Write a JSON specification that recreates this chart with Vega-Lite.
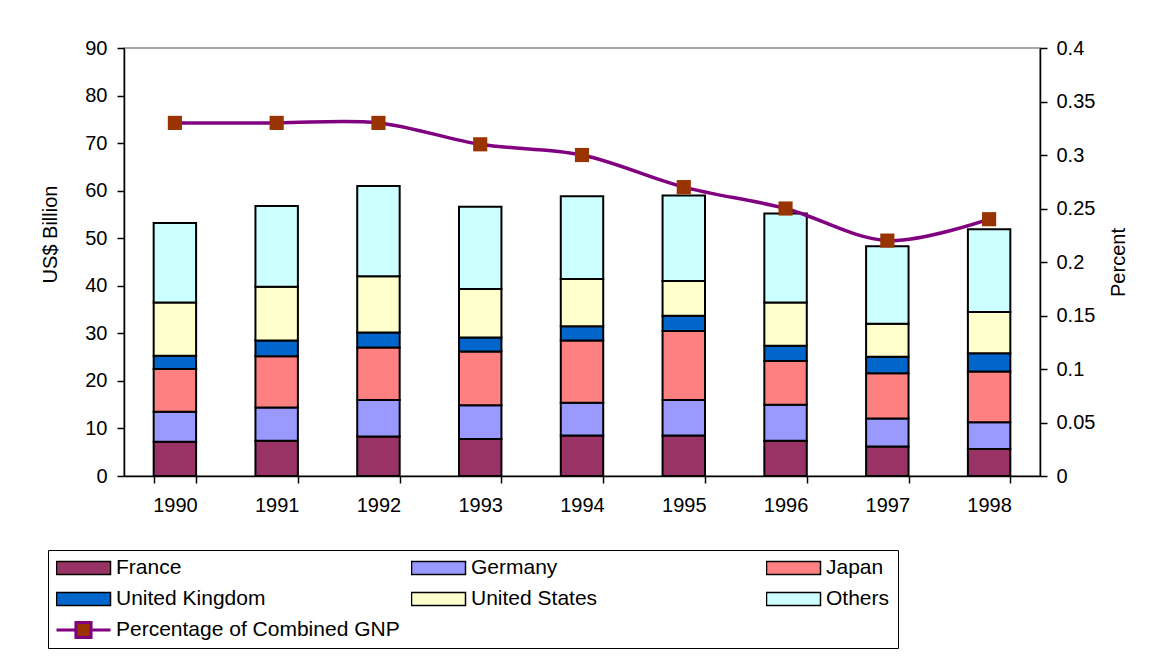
{
  "$schema": "https://vega.github.io/schema/vega-lite/v6.json",
  "width": 916,
  "height": 428,
  "autosize": "none",
  "padding": {"left": 124, "top": 48, "right": 112, "bottom": 190},
  "background": "white",
  "config": {
    "font": "Liberation Sans",
    "view": {"stroke": "#888888", "strokeWidth": 1.5},
    "axis": {"labelFontSize": 20, "labelColor": "#000", "titleFontSize": 20, "titleFontWeight": "normal", "titleColor": "#000", "domainColor": "#000", "tickColor": "#000", "domainWidth": 1.5, "tickWidth": 1.5, "grid": false, "tickSize": 7}
  },
  "datasets": {
    "aid": [
      {"year": "1990", "donor": "France", "value": 7.2},
      {"year": "1990", "donor": "Germany", "value": 6.3},
      {"year": "1990", "donor": "Japan", "value": 9.0},
      {"year": "1990", "donor": "United Kingdom", "value": 2.8},
      {"year": "1990", "donor": "United States", "value": 11.2},
      {"year": "1990", "donor": "Others", "value": 16.7},
      {"year": "1991", "donor": "France", "value": 7.4},
      {"year": "1991", "donor": "Germany", "value": 7.0},
      {"year": "1991", "donor": "Japan", "value": 10.8},
      {"year": "1991", "donor": "United Kingdom", "value": 3.3},
      {"year": "1991", "donor": "United States", "value": 11.3},
      {"year": "1991", "donor": "Others", "value": 17.0},
      {"year": "1992", "donor": "France", "value": 8.3},
      {"year": "1992", "donor": "Germany", "value": 7.7},
      {"year": "1992", "donor": "Japan", "value": 11.0},
      {"year": "1992", "donor": "United Kingdom", "value": 3.2},
      {"year": "1992", "donor": "United States", "value": 11.8},
      {"year": "1992", "donor": "Others", "value": 19.0},
      {"year": "1993", "donor": "France", "value": 7.8},
      {"year": "1993", "donor": "Germany", "value": 7.1},
      {"year": "1993", "donor": "Japan", "value": 11.3},
      {"year": "1993", "donor": "United Kingdom", "value": 2.9},
      {"year": "1993", "donor": "United States", "value": 10.2},
      {"year": "1993", "donor": "Others", "value": 17.3},
      {"year": "1994", "donor": "France", "value": 8.5},
      {"year": "1994", "donor": "Germany", "value": 6.9},
      {"year": "1994", "donor": "Japan", "value": 13.1},
      {"year": "1994", "donor": "United Kingdom", "value": 3.0},
      {"year": "1994", "donor": "United States", "value": 9.9},
      {"year": "1994", "donor": "Others", "value": 17.4},
      {"year": "1995", "donor": "France", "value": 8.5},
      {"year": "1995", "donor": "Germany", "value": 7.5},
      {"year": "1995", "donor": "Japan", "value": 14.5},
      {"year": "1995", "donor": "United Kingdom", "value": 3.2},
      {"year": "1995", "donor": "United States", "value": 7.3},
      {"year": "1995", "donor": "Others", "value": 18.0},
      {"year": "1996", "donor": "France", "value": 7.4},
      {"year": "1996", "donor": "Germany", "value": 7.6},
      {"year": "1996", "donor": "Japan", "value": 9.2},
      {"year": "1996", "donor": "United Kingdom", "value": 3.2},
      {"year": "1996", "donor": "United States", "value": 9.1},
      {"year": "1996", "donor": "Others", "value": 18.7},
      {"year": "1997", "donor": "France", "value": 6.2},
      {"year": "1997", "donor": "Germany", "value": 5.9},
      {"year": "1997", "donor": "Japan", "value": 9.5},
      {"year": "1997", "donor": "United Kingdom", "value": 3.5},
      {"year": "1997", "donor": "United States", "value": 6.9},
      {"year": "1997", "donor": "Others", "value": 16.3},
      {"year": "1998", "donor": "France", "value": 5.7},
      {"year": "1998", "donor": "Germany", "value": 5.6},
      {"year": "1998", "donor": "Japan", "value": 10.7},
      {"year": "1998", "donor": "United Kingdom", "value": 3.8},
      {"year": "1998", "donor": "United States", "value": 8.7},
      {"year": "1998", "donor": "Others", "value": 17.4}
    ],
    "pct": [
      {"year": "1990", "percent": 0.33},
      {"year": "1991", "percent": 0.33},
      {"year": "1992", "percent": 0.33},
      {"year": "1993", "percent": 0.31},
      {"year": "1994", "percent": 0.30},
      {"year": "1995", "percent": 0.27},
      {"year": "1996", "percent": 0.25},
      {"year": "1997", "percent": 0.22},
      {"year": "1998", "percent": 0.24}
    ]
  },
  "encoding": {
    "x": {
      "field": "year", "type": "nominal", "sort": null,
      "scale": {"paddingInner": 0.583, "paddingOuter": 0.2915},
      "axis": {"title": null, "labelAngle": 0, "tickBand": "extent", "labelPadding": 12}
    }
  },
  "layer": [
    {
      "data": {"name": "aid"},
      "transform": [
        {"calculate": "indexof(['France', 'Germany', 'Japan', 'United Kingdom', 'United States', 'Others'], datum.donor)", "as": "stackOrder"}
      ],
      "mark": {"type": "bar", "stroke": "#000", "strokeWidth": 2},
      "encoding": {
        "y": {
          "field": "value", "type": "quantitative", "stack": "zero",
          "scale": {"domain": [0, 90], "nice": false},
          "axis": {"title": "US$ Billion", "values": [0, 10, 20, 30, 40, 50, 60, 70, 80, 90], "labelPadding": 10, "titlePadding": 24, "titleY": 186}
        },
        "order": {"field": "stackOrder", "type": "quantitative", "sort": "ascending"},
        "color": {
          "field": "donor", "type": "nominal",
          "sort": ["France", "Germany", "Japan", "United Kingdom", "United States", "Others", "Percentage of Combined GNP"],
          "scale": {
            "domain": ["France", "Germany", "Japan", "United Kingdom", "United States", "Others", "Percentage of Combined GNP"],
            "range": ["#993366", "#9999FF", "#FF8080", "#0066CC", "#FFFFCC", "#CCFFFF", "#993300"]
          },
          "legend": {
            "title": null,
            "orient": "none",
            "legendX": -76,
            "legendY": 502,
            "direction": "horizontal",
            "columns": 3,
            "gridAlign": "all",
            "columnPadding": 11,
            "rowPadding": 10,
            "clipHeight": 20,
            "padding": 8,
            "strokeColor": "#000",
            "labelFontSize": 21,
            "labelColor": "#000",
            "labelLimit": 400,
            "labelOffset": 22,
            "symbolOffset": 17,
            "symbolSize": 2916,
            "symbolStrokeColor": "#000",
            "symbolStrokeWidth": 1.5,
            "symbolOpacity": 1,
            "encode": {
              "symbols": {
                "update": {
                  "shape": {"signal": "datum.value == 'Percentage of Combined GNP' ? 'M-1,0H-0.28M0.28,0H1M-0.28,-0.28H0.28V0.28H-0.28Z' : 'M-1,-0.24H1V0.24H-1Z'"},
                  "stroke": {"signal": "datum.value == 'Percentage of Combined GNP' ? '#800080' : '#000000'"},
                  "strokeWidth": {"signal": "datum.value == 'Percentage of Combined GNP' ? 3 : 1.5"}
                }
              }
            }
          }
        }
      }
    },
    {
      "data": {"name": "pct"},
      "encoding": {
        "y": {
          "field": "percent", "type": "quantitative",
          "scale": {"domain": [0, 0.4], "nice": false},
          "axis": {"orient": "right", "title": "Percent", "titleAngle": -90, "values": [0, 0.05, 0.1, 0.15, 0.2, 0.25, 0.3, 0.35, 0.4], "format": ".2~f", "labelPadding": 9, "titlePadding": 34}
        }
      },
      "layer": [
        {"mark": {"type": "line", "color": "#800080", "strokeWidth": 3.5, "interpolate": "catmull-rom"}},
        {"mark": {"type": "square", "color": "#993300", "size": 200, "filled": true, "opacity": 1}}
      ]
    }
  ],
  "resolve": {"scale": {"y": "independent"}}
}
